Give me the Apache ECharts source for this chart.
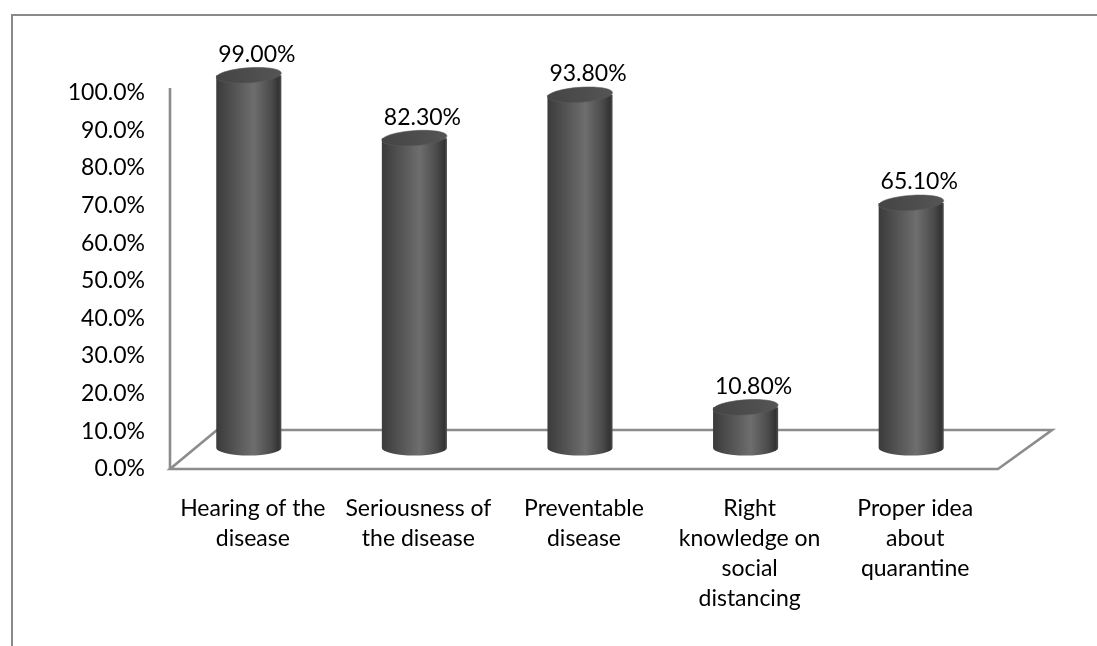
<!DOCTYPE html>
<html>
<head>
<meta charset="utf-8">
<script src="https://cdn.jsdelivr.net/npm/echarts@6/dist/echarts.min.js"></script>
<style>
  html, body { margin: 0; padding: 0; background: #fff; }
  #chart { width: 1097px; height: 646px; }
</style>
</head>
<body>
<div id="chart"></div>
<script>
// Awareness items and share of respondents (%)
const categories = [
  'Hearing of the\ndisease',
  'Seriousness of\nthe disease',
  'Preventable\ndisease',
  'Right\nknowledge on\nsocial\ndistancing',
  'Proper idea\nabout\nquarantine'
];
const values = [99.0, 82.3, 93.8, 10.8, 65.1];
const yTicks = { min: 0, max: 100, interval: 10 };

// 3D look: the floor recedes up and to the right; bars stand mid-depth
const FLOOR_BACK_LEFT_DX = 47;
const FLOOR_BACK_RIGHT_DX = 54;
const FLOOR_DEPTH_DY = -39;
const CYL_DX = -4;
const CYL_DY = -21;
const CYL_BAND_RATIO = 0.393;
const CYL_RY = 7.5;
const TOP_TILT = 0.07;

const FONT = 'Lato, "Open Sans", sans-serif';
const FRAME_COLOR = '#8c8c8c';

const bodyFill = new echarts.graphic.LinearGradient(0, 0, 1, 0, [
  { offset: 0, color: '#3b3b3b' },
  { offset: 0.3, color: '#555555' },
  { offset: 0.58, color: '#6e6e6e' },
  { offset: 0.85, color: '#4a4a4a' },
  { offset: 0.96, color: '#333333' },
  { offset: 1, color: '#505050' }
]);
const topFill = new echarts.graphic.LinearGradient(0, 0, 1, 0, [
  { offset: 0, color: '#444444' },
  { offset: 1, color: '#555555' }
]);

function renderFrame(params, api) {
  const cs = params.coordSys;
  const x0 = cs.x, x1 = cs.x + cs.width, yb = cs.y + cs.height;
  const yTop = api.coord([0, yTicks.max])[1] - 4.5;
  const style = { stroke: FRAME_COLOR, lineWidth: 2.6, fill: null };
  return {
    type: 'group',
    children: [
      {
        type: 'polygon',
        shape: { points: [
          [x0, yb], [x1, yb],
          [x1 + FLOOR_BACK_RIGHT_DX, yb + FLOOR_DEPTH_DY],
          [x0 + FLOOR_BACK_LEFT_DX, yb + FLOOR_DEPTH_DY]
        ] },
        style: style
      },
      {
        type: 'line',
        shape: { x1: x0, y1: yTop, x2: x0, y2: yb },
        style: style
      }
    ]
  };
}

function renderCylinder(params, api) {
  const idx = api.value(0);
  const val = api.value(1);
  const base = api.coord([idx, 0]);
  const top = api.coord([idx, val]);
  const rx = api.size([1, 0])[0] * CYL_BAND_RATIO / 2;
  const cx = base[0] + CYL_DX;
  const yb = base[1] + CYL_DY;
  const yt = top[1] + CYL_DY;
  const l = cx - rx, r = cx + rx;
  const body = 'M' + l + ',' + yt + ' L' + l + ',' + yb +
    ' A' + rx + ',' + CYL_RY + ' 0 0 0 ' + r + ',' + yb +
    ' L' + r + ',' + yt + ' Z';
  return {
    type: 'group',
    children: [
      {
        type: 'path',
        shape: { pathData: body },
        style: { fill: bodyFill }
      },
      {
        type: 'ellipse',
        shape: { cx: cx, cy: yt, rx: rx, ry: CYL_RY },
        originX: cx, originY: yt,
        rotation: TOP_TILT,
        style: { fill: topFill, stroke: '#5a5a5a', lineWidth: 0.6 }
      },
      {
        type: 'text',
        x: cx + 8,
        y: yt - 21,
        style: {
          text: val.toFixed(2) + '%',
          fontFamily: FONT,
          fontSize: 23,
          fill: '#000',
          align: 'center',
          verticalAlign: 'middle'
        }
      }
    ]
  };
}

const chart = echarts.init(document.getElementById('chart'), null, { renderer: 'canvas' });
chart.setOption({
  animation: false,
  backgroundColor: '#fff',
  graphic: [{
    type: 'rect',
    silent: true,
    shape: { x: 12, y: 15, width: 1300, height: 900 },
    style: { fill: null, stroke: '#898989', lineWidth: 2 },
    z: 0
  }],
  grid: { left: 170, right: 99, top: 92.5, bottom: 177 },
  xAxis: {
    type: 'category',
    data: categories,
    axisLine: { show: false },
    axisTick: { show: false },
    splitLine: { show: false },
    axisLabel: {
      margin: 25,
      interval: 0,
      fontFamily: FONT,
      fontSize: 23,
      lineHeight: 30,
      color: '#000'
    }
  },
  yAxis: {
    type: 'value',
    min: yTicks.min,
    max: yTicks.max,
    interval: yTicks.interval,
    axisLine: { show: false },
    axisTick: { show: false },
    splitLine: { show: false },
    axisLabel: {
      margin: 25,
      fontFamily: FONT,
      fontSize: 23,
      color: '#000',
      formatter: v => v.toFixed(1) + '%'
    }
  },
  series: [
    {
      type: 'custom',
      name: 'floor',
      silent: true,
      z: 1,
      renderItem: renderFrame,
      data: [[0, 0]]
    },
    {
      type: 'custom',
      name: 'share',
      z: 2,
      renderItem: renderCylinder,
      encode: { x: 0, y: 1 },
      data: values.map((v, i) => [i, v])
    }
  ]
});
</script>
</body>
</html>
